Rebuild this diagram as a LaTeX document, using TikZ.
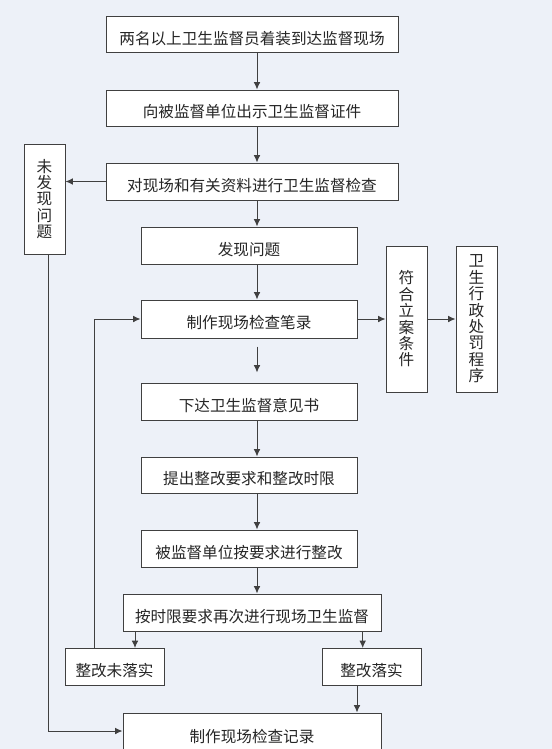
\documentclass[tikz,border=0pt]{standalone}
\usepackage{fontspec}
\setmainfont{Noto Sans CJK SC}
\usetikzlibrary{arrows.meta}
\definecolor{pagebg}{RGB}{237,241,248}
\definecolor{lineclr}{RGB}{64,64,64}
\tikzset{every picture/.style={line width=0.75pt}}
\tikzset{
  box/.style={draw=lineclr, fill=white, inner sep=0pt, text=black!85,
    font=\fontsize{11.7}{12.3}\selectfont, text height=14.5pt, text depth=0pt},
  vbox/.style={draw=lineclr, fill=white, inner sep=0pt, text=black!85, align=center,
    font=\fontsize{11.7}{12.3}\selectfont},
  arr/.style={draw=lineclr, -{Latex[length=5.5pt,width=5pt]}}
}

\begin{document}
\begin{tikzpicture}[x=0.75pt,y=0.75pt,yscale=-1,xscale=1]
\fill[pagebg] (0,0) rectangle (552,749);
\useasboundingbox (0,0) rectangle (552,749);

% main column
\node[box, minimum width=292*0.75pt, minimum height=36*0.75pt] (dxc) at (252,35) {两名以上卫生监督员着装到达监督现场};
\node[box, minimum width=292*0.75pt, minimum height=36*0.75pt] (czj) at (252,108) {向被监督单位出示卫生监督证件};
\node[box, minimum width=292*0.75pt, minimum height=37*0.75pt] (jcha) at (252,181.5) {对现场和有关资料进行卫生监督检查};
\node[box, minimum width=216*0.75pt, minimum height=37*0.75pt] (fxwt) at (249,245.5) {发现问题};
\node[box, minimum width=216*0.75pt, minimum height=38*0.75pt] (bilu) at (249,319) {制作现场检查笔录};
\node[box, minimum width=216*0.75pt, minimum height=37*0.75pt] (yjs) at (249,401.5) {下达卫生监督意见书};
\node[box, minimum width=216*0.75pt, minimum height=36*0.75pt] (zgyq) at (249,475) {提出整改要求和整改时限};
\node[box, minimum width=216*0.75pt, minimum height=37*0.75pt] (zgai) at (249,548.5) {被监督单位按要求进行整改};
\node[box, minimum width=258*0.75pt, minimum height=37*0.75pt] (fucha) at (252,612.5) {按时限要求再次进行现场卫生监督};
\node[box, minimum width=99*0.75pt, minimum height=37*0.75pt] (wls) at (114.5,667) {整改未落实};
\node[box, minimum width=99*0.75pt, minimum height=37*0.75pt] (yls) at (371.5,667) {整改落实};
\node[box, minimum width=258*0.75pt, minimum height=39*0.75pt] (jilu) at (252,732.5) {制作现场检查记录};

% side boxes
\node[vbox, minimum width=41*0.75pt, minimum height=110*0.75pt] (wfx) at (44.5,199) {未\\发\\现\\问\\题};
\node[vbox, minimum width=41*0.75pt, minimum height=146*0.75pt] (lian) at (406.5,319) {符\\合\\立\\案\\条\\件};
\node[vbox, minimum width=41*0.75pt, minimum height=146*0.75pt] (cfcx) at (476.5,319) {卫\\生\\行\\政\\处\\罚\\程\\序};

\coordinate (ax) at (257,0);
\coordinate (lx) at (135,0);
\coordinate (rx) at (362.7,0);
\coordinate (jx) at (357,0);
\coordinate (fx) at (94,0);
\coordinate (wx) at (48,0);

% connectors
\draw[arr] (dxc.south -| ax) -- (czj.north -| ax);
\draw[arr] (czj.south -| ax) -- (jcha.north -| ax);
\draw[arr] (jcha.west) -- (wfx.east |- jcha.west);
\draw[arr] (jcha.south -| ax) -- (fxwt.north -| ax);
\draw[arr] (fxwt.south -| ax) -- (bilu.north -| ax);
\draw[arr, shorten <=8*0.75pt, shorten >=10*0.75pt] (bilu.south -| ax) -- (yjs.north -| ax);
\draw[arr] (yjs.south -| ax) -- (zgyq.north -| ax);
\draw[arr] (zgyq.south -| ax) -- (zgai.north -| ax);
\draw[arr] (zgai.south -| ax) -- (fucha.north -| ax);
\draw[arr] (bilu.east) -- (lian.west |- bilu.east);
\draw[arr] (lian.east) -- (cfcx.west |- lian.east);
\draw[arr] (fucha.south -| lx) -- (wls.north -| lx);
\draw[arr] (fucha.south -| rx) -- (yls.north -| rx);
\draw[arr] (yls.south -| jx) -- (jilu.north -| jx);
\draw[arr] (wls.north -| fx) |- (bilu.west);
\draw[arr] (wfx.south -| wx) |- ([yshift=-1.5*0.75pt]jilu.west);

\end{tikzpicture}
\end{document}
